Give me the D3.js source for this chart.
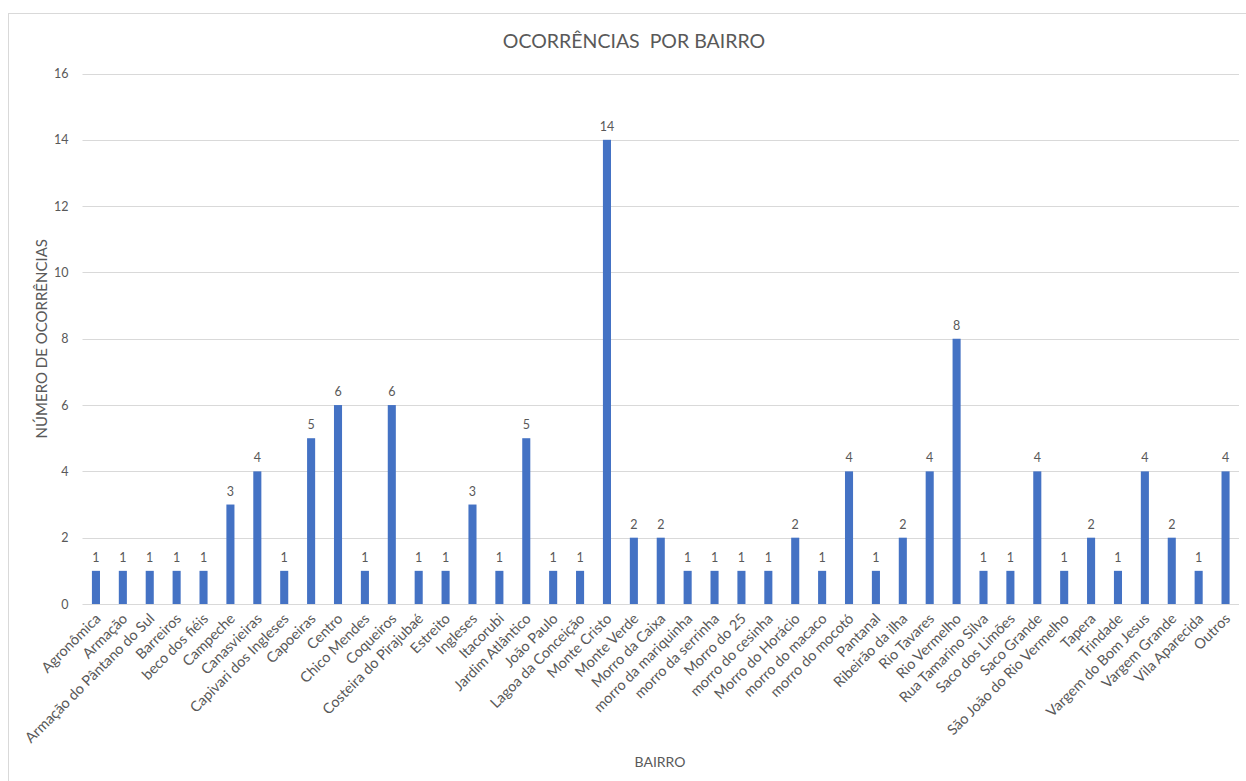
<!DOCTYPE html>
<html><head><meta charset="utf-8">
<script src="https://cdn.jsdelivr.net/npm/d3@7"></script>
<style>body{margin:0;background:#fff;} text{font-family:Lato,"Open Sans",sans-serif;fill:#595959;}</style>
</head><body><svg id="c" width="1246" height="781"></svg>
<script>
const categories = ["Agronômica","Armação","Armação do Pântano do Sul","Barreiros","beco dos fiéis","Campeche","Canasvieiras","Capivari dos Ingleses","Capoeiras","Centro","Chico Mendes","Coqueiros","Costeira do Pirajubaé","Estreito","Ingleses","Itacorubi","Jardim Atlântico","João Paulo","Lagoa da Conceição","Monte Cristo","Monte Verde","Morro da Caixa","morro da mariquinha","morro da serrinha","Morro do 25","morro do cesinha","Morro do Horácio","morro do macaco","morro do mocotó","Pantanal","Ribeirão da ilha","Rio Tavares","Rio Vermelho","Rua Tamarino Silva","Saco dos Limões","Saco Grande","São João do Rio Vermelho","Tapera","Trindade","Vargem do Bom Jesus","Vargem Grande","Vila Aparecida","Outros"];
const values = [1,1,1,1,1,3,4,1,5,6,1,6,1,1,3,1,5,1,1,14,2,2,1,1,1,1,2,1,4,1,2,4,8,1,1,4,1,2,1,4,2,1,4];
const yTicks = [0,2,4,6,8,10,12,14,16];
const title = "OCORRÊNCIAS  POR BAIRRO";
const xTitle = "BAIRRO";
const yTitle = "NÚMERO DE OCORRÊNCIAS";

const svg = d3.select("#c");
const L = 82.5, R = 1239, T = 73.5, B = 604;
svg.append("rect").attr("x",8.5).attr("y",13.5).attr("width",1260).attr("height",800)
  .attr("fill","#fff").attr("stroke","#d9d9d9");

const x = d3.scaleBand().domain(categories).range([L,R]).paddingInner(0.7).paddingOuter(0.35);
const y = d3.scaleLinear().domain([0,16]).range([B,T]);

// gridlines
svg.append("g").selectAll("line").data(yTicks).join("line")
  .attr("x1",L).attr("x2",R).attr("y1",d=>Math.round(y(d))+0.5).attr("y2",d=>Math.round(y(d))+0.5)
  .attr("stroke","#d9d9d9").attr("stroke-width",1);

// y tick labels
const ya = svg.append("g").attr("transform",`translate(${L},0)`)
  .call(d3.axisLeft(y).tickValues(yTicks).tickSize(0).tickPadding(14));
ya.select(".domain").remove();
ya.selectAll("text").style("font-family","Lato,'Open Sans',sans-serif").style("font-size","12.5px").attr("fill","#595959");

// bars
svg.append("g").selectAll("rect").data(values).join("rect")
  .attr("x",(d,i)=>x(categories[i])).attr("width",x.bandwidth())
  .attr("y",d=>y(d)).attr("height",d=>y(0)-y(d)).attr("fill","#4472C4");

// value labels
svg.append("g").selectAll("text").data(values).join("text")
  .attr("x",(d,i)=>x(categories[i])+x.bandwidth()/2).attr("y",d=>y(d)-9)
  .attr("text-anchor","middle").style("font-size","12.5px").text(d=>d);

// x axis labels
const xa = svg.append("g").attr("transform",`translate(0,${B})`)
  .call(d3.axisBottom(x).tickSize(0).tickPadding(0));
xa.select(".domain").remove();
xa.selectAll("text").attr("transform","translate(2,12) rotate(-45)").attr("text-anchor","end")
  .attr("dy","0.35em").attr("dx","0")
  .style("font-family","Lato,'Open Sans',sans-serif").style("font-size","14.5px").attr("fill","#595959");

svg.append("text").attr("x",634).attr("y",48).attr("text-anchor","middle")
  .style("font-size","19.5px").style("white-space","pre").text(title);
svg.append("text").attr("x",660).attr("y",767).attr("text-anchor","middle")
  .style("font-size","14px").text(xTitle);
svg.append("text").attr("transform",`translate(47,${(T+B)/2}) rotate(-90)`).attr("text-anchor","middle")
  .style("font-size","15px").text(yTitle);
</script></body></html>
